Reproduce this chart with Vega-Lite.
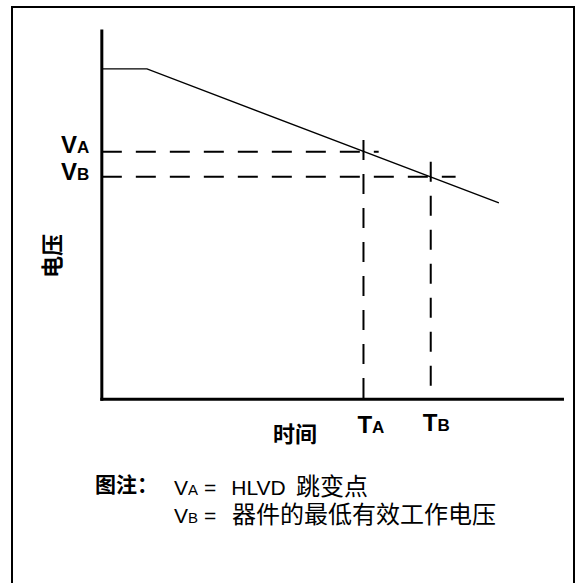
{
  "$schema": "https://vega.github.io/schema/vega-lite/v6.json",
  "width": 562,
  "height": 580,
  "autosize": {"type": "none"},
  "padding": {"left": 12, "top": 7, "right": 10, "bottom": 0},
  "background": "white",
  "config": {"view": {"stroke": "black", "strokeWidth": 2}},
  "datasets": {
    "axes": [
      {"t": 0, "v": 0, "t2": 100, "v2": 0},
      {"t": 0, "v": 0, "t2": 0, "v2": 100}
    ],
    "curve": [
      {"t": 0, "v": 89.7},
      {"t": 9.8, "v": 89.7},
      {"t": 86.2, "v": 53.3}
    ],
    "guides": [
      {"name": "VA", "t": 0, "v": 67.2, "t2": 60.1, "v2": 67.2},
      {"name": "VB", "t": 0, "v": 60.4, "t2": 76.8, "v2": 60.4},
      {"name": "TA", "t": 56.8, "v": 70.4, "t2": 56.8, "v2": 0},
      {"name": "TB", "t": 71.4, "v": 64.5, "t2": 71.4, "v2": 0}
    ],
    "axisLetters": [
      {"main": "V", "sub": "A", "t": -5.38, "v": 66.86},
      {"main": "V", "sub": "B", "t": -5.38, "v": 59.52},
      {"main": "T", "sub": "A", "t": 58.66, "v": -9.18},
      {"main": "T", "sub": "B", "t": 72.87, "v": -8.64}
    ],
    "xTitle": [{"label": "时间", "t": 41.94, "v": -9.72}],
    "yTitle": [{"label": "电压", "t": -10.7, "v": 38.89}],
    "noteHead": [{"label": "图注：", "t": -1.48, "v": -23.57}],
    "noteLetters": [
      {"main": "V", "sub": "A", "t": 18.72, "v": -26.01},
      {"main": "V", "sub": "B", "t": 18.72, "v": -33.62}
    ],
    "noteLatin": [
      {"label": "=", "t": 22.19, "v": -26.01},
      {"label": "HLVD", "t": 28.1, "v": -26.01},
      {"label": "=", "t": 22.19, "v": -33.62}
    ],
    "noteCJK": [
      {"label": "跳变点", "t": 42.16, "v": -26.01},
      {"label": "器件的最低有效工作电压", "t": 28.26, "v": -33.62}
    ]
  },
  "layer": [
    {
      "data": {"name": "axes"},
      "mark": {"type": "rule", "color": "black", "strokeWidth": 3, "strokeCap": "square"},
      "encoding": {
        "x": {"field": "t", "type": "quantitative", "scale": {"domain": [-19.5, 102.5]}, "axis": null},
        "y": {"field": "v", "type": "quantitative", "scale": {"domain": [-51, 106.5]}, "axis": null},
        "x2": {"field": "t2"},
        "y2": {"field": "v2"}
      }
    },
    {
      "data": {"name": "curve"},
      "mark": {"type": "line", "color": "black", "strokeWidth": 1.4},
      "encoding": {
        "x": {"field": "t", "type": "quantitative", "scale": {"domain": [-19.5, 102.5]}, "axis": null},
        "y": {"field": "v", "type": "quantitative", "scale": {"domain": [-51, 106.5]}, "axis": null}
      }
    },
    {
      "data": {"name": "guides"},
      "mark": {"type": "rule", "color": "black", "strokeWidth": 2, "strokeDash": [20, 14]},
      "encoding": {
        "x": {"field": "t", "type": "quantitative", "scale": {"domain": [-19.5, 102.5]}, "axis": null},
        "y": {"field": "v", "type": "quantitative", "scale": {"domain": [-51, 106.5]}, "axis": null},
        "x2": {"field": "t2"},
        "y2": {"field": "v2"}
      }
    },
    {
      "data": {"name": "axisLetters"},
      "mark": {"type": "text", "align": "right", "baseline": "alphabetic", "font": "Liberation Sans", "fontWeight": "bold", "fontSize": 24, "color": "black"},
      "encoding": {
        "x": {"field": "t", "type": "quantitative", "scale": {"domain": [-19.5, 102.5]}, "axis": null},
        "y": {"field": "v", "type": "quantitative", "scale": {"domain": [-51, 106.5]}, "axis": null},
        "text": {"field": "main"}
      }
    },
    {
      "data": {"name": "axisLetters"},
      "mark": {"type": "text", "align": "left", "baseline": "alphabetic", "font": "Liberation Sans", "fontWeight": "bold", "fontSize": 17, "color": "black"},
      "encoding": {
        "x": {"field": "t", "type": "quantitative", "scale": {"domain": [-19.5, 102.5]}, "axis": null},
        "y": {"field": "v", "type": "quantitative", "scale": {"domain": [-51, 106.5]}, "axis": null},
        "text": {"field": "sub"}
      }
    },
    {
      "data": {"name": "xTitle"},
      "mark": {"type": "text", "align": "center", "baseline": "middle", "font": "Noto Sans CJK SC", "fontWeight": "bold", "fontSize": 22, "color": "black"},
      "encoding": {
        "x": {"field": "t", "type": "quantitative", "scale": {"domain": [-19.5, 102.5]}, "axis": null},
        "y": {"field": "v", "type": "quantitative", "scale": {"domain": [-51, 106.5]}, "axis": null},
        "text": {"field": "label"}
      }
    },
    {
      "data": {"name": "yTitle"},
      "mark": {"type": "text", "align": "center", "baseline": "middle", "angle": 270, "font": "Noto Sans CJK SC", "fontWeight": "bold", "fontSize": 22, "color": "black"},
      "encoding": {
        "x": {"field": "t", "type": "quantitative", "scale": {"domain": [-19.5, 102.5]}, "axis": null},
        "y": {"field": "v", "type": "quantitative", "scale": {"domain": [-51, 106.5]}, "axis": null},
        "text": {"field": "label"}
      }
    },
    {
      "data": {"name": "noteHead"},
      "mark": {"type": "text", "align": "left", "baseline": "middle", "font": "Noto Sans CJK SC", "fontWeight": "bold", "fontSize": 21, "color": "black"},
      "encoding": {
        "x": {"field": "t", "type": "quantitative", "scale": {"domain": [-19.5, 102.5]}, "axis": null},
        "y": {"field": "v", "type": "quantitative", "scale": {"domain": [-51, 106.5]}, "axis": null},
        "text": {"field": "label"}
      }
    },
    {
      "data": {"name": "noteLetters"},
      "mark": {"type": "text", "align": "right", "baseline": "alphabetic", "font": "Liberation Sans", "fontSize": 21, "color": "black"},
      "encoding": {
        "x": {"field": "t", "type": "quantitative", "scale": {"domain": [-19.5, 102.5]}, "axis": null},
        "y": {"field": "v", "type": "quantitative", "scale": {"domain": [-51, 106.5]}, "axis": null},
        "text": {"field": "main"}
      }
    },
    {
      "data": {"name": "noteLetters"},
      "mark": {"type": "text", "align": "left", "baseline": "alphabetic", "font": "Liberation Sans", "fontSize": 15, "color": "black"},
      "encoding": {
        "x": {"field": "t", "type": "quantitative", "scale": {"domain": [-19.5, 102.5]}, "axis": null},
        "y": {"field": "v", "type": "quantitative", "scale": {"domain": [-51, 106.5]}, "axis": null},
        "text": {"field": "sub"}
      }
    },
    {
      "data": {"name": "noteLatin"},
      "mark": {"type": "text", "align": "left", "baseline": "alphabetic", "font": "Liberation Sans", "fontSize": 21, "color": "black"},
      "encoding": {
        "x": {"field": "t", "type": "quantitative", "scale": {"domain": [-19.5, 102.5]}, "axis": null},
        "y": {"field": "v", "type": "quantitative", "scale": {"domain": [-51, 106.5]}, "axis": null},
        "text": {"field": "label"}
      }
    },
    {
      "data": {"name": "noteCJK"},
      "mark": {"type": "text", "align": "left", "baseline": "alphabetic", "font": "Noto Sans CJK SC", "fontSize": 24, "color": "black"},
      "encoding": {
        "x": {"field": "t", "type": "quantitative", "scale": {"domain": [-19.5, 102.5]}, "axis": null},
        "y": {"field": "v", "type": "quantitative", "scale": {"domain": [-51, 106.5]}, "axis": null},
        "text": {"field": "label"}
      }
    }
  ]
}
